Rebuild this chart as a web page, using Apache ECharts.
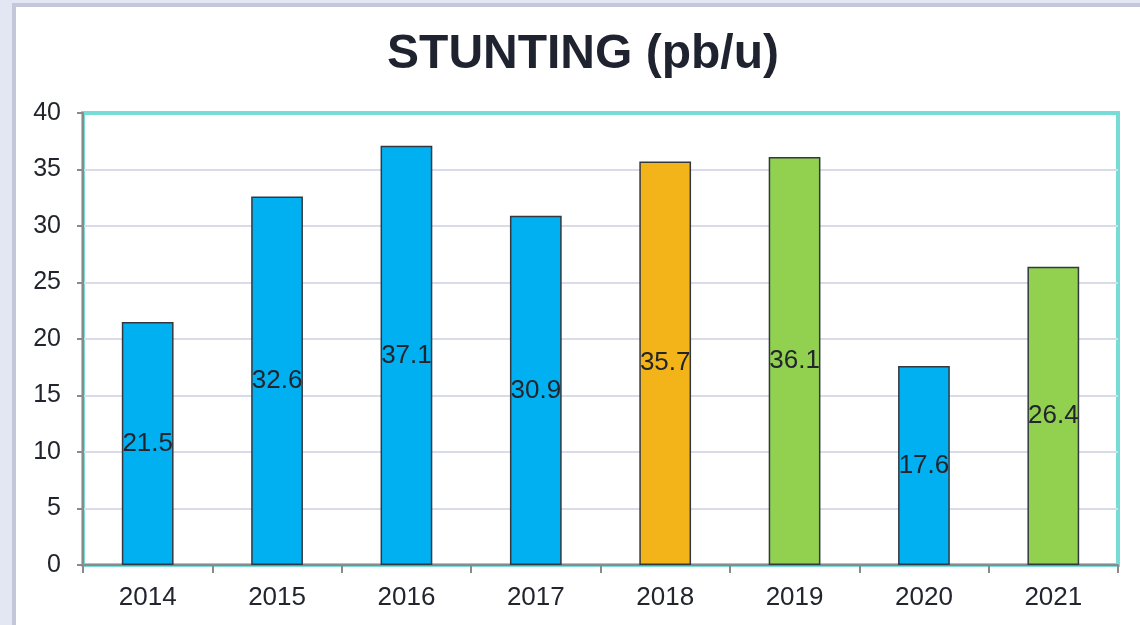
<!DOCTYPE html>
<html>
<head>
<meta charset="utf-8">
<script src="https://cdn.jsdelivr.net/npm/echarts@6/dist/echarts.min.js"></script>
<style>html,body{margin:0;padding:0;background:#fff;}#c{width:1140px;height:625px;}</style>
</head>
<body>
<div id="c"></div>
<script>
const categories = ['2014','2015','2016','2017','2018','2019','2020','2021'];
const values = [21.5, 32.6, 37.1, 30.9, 35.7, 36.1, 17.6, 26.4];
const barColors = ['#00B0F0','#00B0F0','#00B0F0','#00B0F0','#F2B418','#92D050','#00B0F0','#92D050'];
const yTicks = [0,5,10,15,20,25,30,35,40];

const TEAL = '#78dcd6';
const GRIDC = '#d9dbe8';
const FONT = 'Liberation Sans, Arial, sans-serif';

const chart = echarts.init(document.getElementById('c'));
chart.setOption({
  backgroundColor: '#ffffff',
  animation: false,
  graphic: [
    {type:'rect', shape:{x:0,y:0,width:13,height:625}, style:{fill:'#e3e7f3'}, z:-10},
    {type:'rect', shape:{x:0,y:0,width:1140,height:3}, style:{fill:'#e3e7f3'}, z:-10},
    {type:'rect', shape:{x:12,y:3,width:1128,height:4}, style:{fill:'#c3c7d9'}, z:-9},
    {type:'rect', shape:{x:12,y:3,width:4,height:622}, style:{fill:'#c3c7d9'}, z:-9}
  ],
  title: {
    text: 'STUNTING (pb/u)',
    left: 578, top: 26, textAlign: 'center',
    textStyle: {fontFamily: FONT, fontSize: 48, fontWeight: 'bold', color: '#1f2330'}
  },
  grid: {
    left: 83, right: 22, top: 113, bottom: 60,
    show: true, borderColor: TEAL, borderWidth: 4, backgroundColor: 'transparent'
  },
  xAxis: {
    type: 'category',
    data: categories,
    axisLine: {show: true, lineStyle: {color: '#8a8a8a', width: 2}},
    axisTick: {show: true, alignWithLabel: false, length: 8, lineStyle: {color: '#8a8a8a', width: 2}},
    axisLabel: {fontFamily: FONT, fontSize: 26, color: '#22252e', margin: 20}
  },
  yAxis: {
    type: 'value',
    min: 0, max: 40, interval: 5,
    axisLine: {show: true, lineStyle: {color: '#8a8a8a', width: 2}},
    axisTick: {show: true, length: 6, lineStyle: {color: '#8a8a8a', width: 2}},
    splitLine: {show: true, lineStyle: {color: [TEAL, GRIDC, GRIDC, GRIDC, GRIDC, GRIDC, GRIDC, GRIDC, TEAL], width: 2}},
    axisLabel: {fontFamily: FONT, fontSize: 25, color: '#22252e', margin: 22,
      formatter: v => yTicks.includes(v) ? String(v) : ''}
  },
  series: [{
    type: 'bar',
    data: values.map((v, i) => ({value: v, itemStyle: {color: barColors[i]}})),
    barWidth: '40%',
    itemStyle: {borderColor: '#333840', borderWidth: 1.5},
    label: {
      show: true, position: 'inside',
      fontFamily: FONT, fontSize: 26, color: '#22252e',
      formatter: p => p.value.toFixed(1)
    }
  }]
});
</script>
</body>
</html>
